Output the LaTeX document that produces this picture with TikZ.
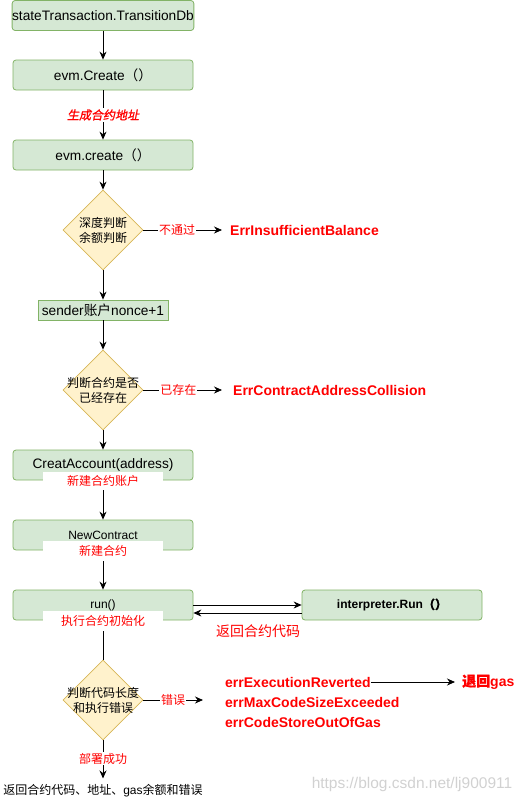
\documentclass[tikz,border=0pt]{standalone}
\usepackage{fontspec}
\setmainfont{Liberation Sans}
\newfontfamily\cjk{Noto Sans CJK SC}
\newfontfamily\cjkb{Noto Sans CJK SC}[FakeBold=1]
\newfontfamily\cjkbi{Noto Sans CJK SC}[FakeBold=1.2,FakeSlant=0.2]
\usetikzlibrary{shapes.geometric,arrows.meta}
\definecolor{gfill}{HTML}{D5E8D4}
\definecolor{gdraw}{HTML}{82B366}
\definecolor{yfill}{HTML}{FFF2CC}
\definecolor{ydraw}{HTML}{D6B656}
\definecolor{redzero}{HTML}{FF0000}
\tikzset{
  gbox/.style={draw=gdraw, fill=gfill, rounded corners=3pt, minimum width=180pt, minimum height=30pt, inner sep=0pt, font=\fontsize{13.7}{15}\selectfont, line width=0.8pt},
  smalltext/.style={font=\fontsize{12}{14}\selectfont},
  sbox/.style={gbox, rounded corners=0pt, minimum width=130pt, minimum height=20pt},
  dia/.style={draw=ydraw, fill=yfill, diamond, minimum width=80pt, minimum height=80pt, inner sep=0pt, line width=0.8pt},
  dtext/.style={align=center, font=\fontsize{12}{15}\selectfont\cjk, inner sep=0pt},
  arr/.style={-{Stealth[length=8pt,width=7pt]}, line width=0.8pt},
  plain/.style={line width=0.8pt},
  elabel/.style={fill=white, text=redzero, font=\fontsize{12}{14}\selectfont\cjk, inner sep=1pt},
  blabel/.style={fill=white, text=redzero, font=\fontsize{12}{14}\selectfont\cjk, minimum width=120pt, minimum height=19pt, inner sep=0pt},
  errtxt/.style={text=redzero, font=\fontsize{14}{16}\selectfont\bfseries, inner sep=0pt, anchor=west},
}
\begin{document}
\begin{tikzpicture}[x=1pt,y=-1pt]
\useasboundingbox (0,0) rectangle (524,801);
% boxes
\node[gbox] (b1) at (103,15.5) {stateTransaction.TransitionDb};
\node[gbox] (b2) at (103,75) {evm.Create{\cjk （）}};
\node[gbox] (b3) at (103,155) {evm.create{\cjk （）}};
\node[dia] (d1) at (103,230) {};
\node[dtext] (t1) at (d1.center) {深度判断\\余额判断};
\node[sbox] (b4) at (103,310) {sender{\cjk 账户}nonce+1};
\node[dia] (d2) at (103,390) {};
\node[dtext] (t2) at (d2.center) {判断合约是否\\已经存在};
\node[gbox] (b5) at (103,465) {CreatAccount(address)};
\node[gbox, smalltext] (b6) at (103,535) {NewContract};
\node[gbox, smalltext] (b7) at (103,605) {run()};
\node[gbox, font=\fontsize{12}{14}\selectfont\bfseries] (b8) at (392,605) {interpreter.Run{\cjkb （）}};
\node[dia] (d3) at (103,700) {};
\node[dtext] (t3) at (d3.center) {判断代码长度\\和执行错误};
% error texts
\node[errtxt] (e1) at (230,230) {ErrInsufficientBalance};
\node[errtxt] (e2) at (233,390) {ErrContractAddressCollision};
\node[errtxt] (e3) at (225,682) {errExecutionReverted};
\node[errtxt] (e4) at (225,702) {errMaxCodeSizeExceeded};
\node[errtxt] (e5) at (225,722) {errCodeStoreOutOfGas};
\node[errtxt] (g1) at (462,682) {{\cjkb 退回}gas};
\coordinate (c3) at (203,700);
\node[inner sep=0pt, font=\fontsize{12}{14}\selectfont] (fin) at (103,791) {{\cjk 返回合约代码、地址、}gas{\cjk 余额和错误}};
% connectors
\draw[arr] (b1) -- (b2);
\draw[arr] (b2) -- (b3) node[midway, fill=white, text=redzero, inner sep=1pt, font=\fontsize{12}{14}\selectfont\cjkbi] (l1) {生成合约地址};
\draw[arr] (b3) -- (d1);
\draw[arr, shorten >=8pt] (d1.east) -- (e1.west) node[elabel, pos=0.39] (l2) {不通过};
\draw[arr] (d1) -- (b4);
\draw[arr] (b4) -- (d2);
\draw[arr, shorten >=11pt] (d2.east) -- (e2.west) node[elabel, pos=0.39] (l3) {已存在};
\draw[arr] (d2) -- (b5);
\draw[arr] (b5) -- (b6);
\draw[arr] (b6) -- (b7);
\draw[arr] (b7.east) -- (b8.west);
\draw[arr] ([yshift=-8pt]b8.west) -- ([yshift=-8pt]b7.east);
\draw[plain] (b7) -- (d3);
\draw[arr] (d3.east) -- (c3) node[elabel, pos=0.5] (l4) {错误};
\draw[arr, shorten >=7pt] (e3.east) -- (g1.west);
\draw[arr, shorten >=6pt] (d3.south) -- (fin.north) node[elabel, pos=0.42] (l5) {部署成功};
% labels on boxes
\node[blabel, minimum height=18pt] (l6) at (103,481) {新建合约账户};
\node[blabel, minimum height=20pt] (l7) at (103,550.5) {新建合约};
\node[blabel, minimum height=20pt] (l8) at (103,621) {执行合约初始化};
\node[text=redzero, inner sep=0pt, font=\fontsize{14}{16}\selectfont\cjk] (l9) at (258,631) {返回合约代码};
% watermark
\node[text=black!18, inner sep=0pt, font=\fontsize{15.5}{17}\selectfont] (wm) at (412,784) {https://blog.csdn.net/lj900911};
\end{tikzpicture}
\end{document}
